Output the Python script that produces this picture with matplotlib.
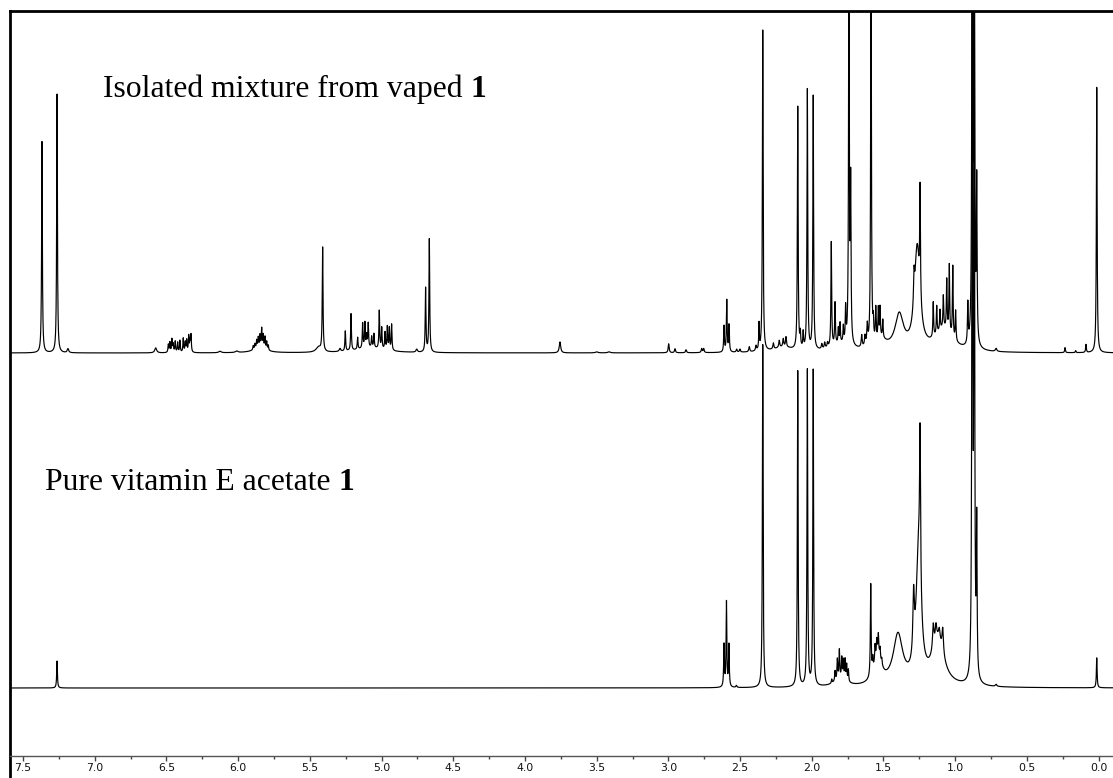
import numpy as np
import matplotlib
matplotlib.use("Agg")
import matplotlib.pyplot as plt
from matplotlib.ticker import MultipleLocator

# ---------------------------------------------------------------------------
# 1H NMR peak lists (chemical shift in ppm, intensity, half-width in ppm)
# ---------------------------------------------------------------------------
# Isolated mixture from vaped vitamin E acetate (upper trace)
mix_shift = [7.368, 7.263, 7.187, 6.575,
             6.487, 6.476, 6.462, 6.453, 6.439, 6.422, 6.406, 6.383, 6.369, 6.359, 6.345, 6.336, 6.329,
             6.127, 6.010, 5.850,
             5.895, 5.883, 5.871, 5.860, 5.848, 5.836, 5.825, 5.813, 5.801, 5.790,
             5.440, 5.411, 5.290, 5.080,
             5.253, 5.213, 5.167, 5.132, 5.116, 5.104, 5.093, 5.069, 5.053, 5.016, 4.999, 4.976, 4.960, 4.946, 4.930,
             4.755, 4.693, 4.667, 3.756, 3.500, 3.414,
             2.998, 2.954, 2.877, 2.768, 2.754,
             2.612, 2.593, 2.577, 2.524, 2.501, 2.436, 2.389, 2.368, 2.342,
             2.200, 2.268, 2.227, 2.199, 2.180, 2.080, 2.060,
             2.098, 2.031, 1.990,
             1.800, 1.930, 1.910, 1.890,
             1.864, 1.838, 1.815, 1.803, 1.780, 1.764, 1.741, 1.729,
             1.652, 1.629, 1.613, 1.587,
             1.571, 1.554, 1.536, 1.524, 1.505, 1.520,
             1.390, 1.265, 1.287, 1.245, 1.080,
             1.153, 1.129, 1.106, 1.083, 1.059, 1.041, 1.017, 0.997,
             0.912, 0.881, 0.867, 0.850, 0.715,
             0.234, 0.160, 0.088, 0.013]
mix_height = [212, 259, 4, 5,
              8, 10, 13, 8, 11, 10, 12, 14, 10, 12, 16, 11, 17,
              1.5, 1.5, 5,
              4, 5, 8, 10, 12, 19, 13, 12, 8, 5,
              5, 104, 3, 5,
              20, 37, 12, 25, 25, 12, 24, 11, 14, 38, 21, 17, 23, 22, 26,
              3, 64, 114, 11, 1, 1,
              9, 4, 3, 4, 4,
              26, 52, 27, 3, 3, 5, 5, 26, 321,
              5, 6, 7, 8, 10, 14, 16,
              243, 261, 254,
              7, 5, 6, 5,
              105, 42, 15, 20, 16, 34, 420, 155,
              12, 10, 20, 420,
              18, 32, 30, 30, 18, 10,
              35, 100, 30, 110, 22,
              35, 28, 20, 32, 50, 68, 72, 30,
              40, 650, 550, 158, 3,
              5, 2, 8, 266]
mix_width = [0.003, 0.003, 0.006, 0.008,
             0.003, 0.003, 0.003, 0.003, 0.003, 0.003, 0.003, 0.003, 0.003, 0.003, 0.003, 0.003, 0.003,
             0.010, 0.010, 0.050,
             0.003, 0.003, 0.003, 0.003, 0.003, 0.003, 0.003, 0.003, 0.003, 0.003,
             0.020, 0.003, 0.006, 0.120,
             0.003, 0.003, 0.003, 0.003, 0.003, 0.003, 0.003, 0.003, 0.003, 0.003, 0.003, 0.003, 0.003, 0.003, 0.003,
             0.006, 0.003, 0.003, 0.006, 0.010, 0.010,
             0.004, 0.004, 0.004, 0.004, 0.004,
             0.003, 0.003, 0.003, 0.004, 0.004, 0.004, 0.004, 0.0025, 0.003,
             0.080, 0.004, 0.004, 0.004, 0.004, 0.003, 0.003,
             0.003, 0.003, 0.003,
             0.080, 0.004, 0.004, 0.004,
             0.003, 0.003, 0.003, 0.003, 0.003, 0.003, 0.003, 0.003,
             0.004, 0.004, 0.004, 0.003,
             0.003, 0.003, 0.003, 0.003, 0.003, 0.050,
             0.035, 0.022, 0.004, 0.003, 0.070,
             0.003, 0.003, 0.003, 0.003, 0.003, 0.003, 0.003, 0.003,
             0.003, 0.003, 0.003, 0.003, 0.006,
             0.003, 0.003, 0.003, 0.003]

# Pure vitamin E acetate (lower trace)
pure_shift = [7.263,
              2.612, 2.595, 2.578, 2.526, 2.342,
              2.098, 2.031, 1.990,
              1.800, 1.861, 1.838, 1.822, 1.808, 1.791, 1.780, 1.768, 1.757, 1.745,
              1.589, 1.540, 1.575, 1.559, 1.547, 1.536, 1.524, 1.512,
              1.399, 1.255, 1.290, 1.245,
              1.120, 1.153, 1.134, 1.111, 1.087,
              0.881, 0.867, 0.850, 0.715, 0.013]
pure_height = [27,
               42, 85, 42, 2, 343,
               316, 317, 316,
               8, 4, 10, 20, 28, 20, 18, 20, 16, 12,
               92, 30, 12, 16, 14, 18, 10, 6,
               50, 130, 60, 150,
               45, 25, 15, 10, 25,
               800, 700, 150, 2, 30]
pure_width = [0.003,
              0.003, 0.003, 0.003, 0.004, 0.003,
              0.003, 0.003, 0.003,
              0.050, 0.003, 0.003, 0.003, 0.003, 0.003, 0.003, 0.003, 0.003, 0.003,
              0.003, 0.030, 0.003, 0.003, 0.003, 0.003, 0.003, 0.003,
              0.040, 0.020, 0.006, 0.004,
              0.050, 0.006, 0.006, 0.006, 0.006,
              0.003, 0.003, 0.003, 0.006, 0.003]

mix_offset = 405
pure_offset = 70

axis_ticks = np.arange(0.0, 7.51, 0.5)
axis_labels = [f"{t:.1f}" for t in axis_ticks]

# ---------------------------------------------------------------------------
ppm = np.linspace(7.62, -0.12, 15000)


def spectrum(shifts, heights, widths):
    y = np.zeros_like(ppm)
    for c, h, w in zip(shifts, heights, widths):
        y += h * w ** 2 / ((ppm - c) ** 2 + w ** 2)
    return y


fig = plt.figure(figsize=(11.13, 7.78), dpi=100)
ax = fig.add_axes([10 / 1113, 0.0, 1 - 10 / 1113, 1 - 11 / 778])

ax.plot(ppm, mix_offset + spectrum(mix_shift, mix_height, mix_width),
        color="black", lw=0.85)
ax.plot(ppm, pure_offset + spectrum(pure_shift, pure_height, pure_width),
        color="black", lw=0.85)

ax.set_xlim(7.591, -0.1004)
ax.set_ylim(-20, 747)
ax.set_yticks([])

for side in ("top", "left"):
    ax.spines[side].set_linewidth(2)
    ax.spines[side].set_color("black")
ax.spines["right"].set_visible(False)
ax.spines["bottom"].set_position(("data", 2))
ax.spines["bottom"].set_linewidth(1)
ax.spines["bottom"].set_color("#555555")

ax.set_xticks(axis_ticks)
ax.set_xticklabels(axis_labels)
ax.xaxis.set_minor_locator(MultipleLocator(0.25))
ax.tick_params(axis="x", which="major", direction="out", length=3.5, width=1,
               color="#444444", labelsize=7.8, pad=1.5, labelcolor="#111111")
ax.tick_params(axis="x", which="minor", direction="out", length=2.5, width=1,
               color="#444444")

serif = ["Liberation Serif", "DejaVu Serif"]
t1 = ax.text(6.943, 661, "Isolated mixture from vaped", fontsize=22.8,
             family=serif, ha="left", va="baseline")
ax.annotate("1", xy=(1, 661), xycoords=(t1, "data"), xytext=(5.7, 0),
            textcoords="offset points", fontsize=22.8, family=serif,
            fontweight="bold", ha="left", va="baseline")
t2 = ax.text(7.348, 268, "Pure vitamin E acetate", fontsize=22.8,
             family=serif, ha="left", va="baseline")
ax.annotate("1", xy=(1, 268), xycoords=(t2, "data"), xytext=(5.7, 0),
            textcoords="offset points", fontsize=22.8, family=serif,
            fontweight="bold", ha="left", va="baseline")

fig.savefig("out.png", dpi=100)
